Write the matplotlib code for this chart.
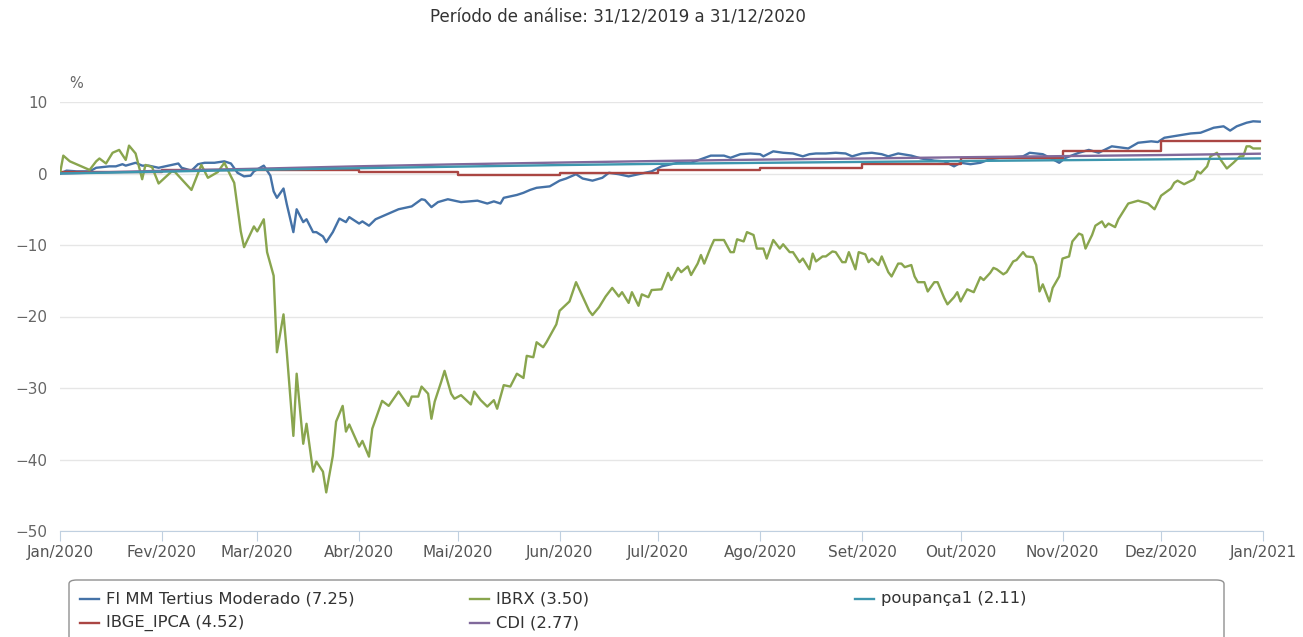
import numpy as np
import pandas as pd
import matplotlib
matplotlib.use("Agg")
import matplotlib.pyplot as plt
from matplotlib.lines import Line2D
from matplotlib.patches import FancyBboxPatch

plt.rcParams['font.family'] = ['DejaVu Sans']

inicio = pd.Timestamp("2020-01-01")

# dias contados a partir de 01/01/2020, valores em %
fundo_dias = [0, 2, 5, 9, 11, 15, 17, 19, 20, 23, 25, 27, 30, 32, 36, 37, 40, 42, 44, 47,
              50, 52, 54, 56, 58, 59, 62, 64, 65, 66, 68, 69, 71, 72, 74, 75, 77, 78, 80, 81,
              83, 85, 87, 88, 91, 92, 94, 96, 98, 100, 103, 107, 110, 111, 113, 115, 118, 122,
              127, 130, 132, 134, 135, 139, 141, 143, 145, 149, 152, 154, 157, 159, 162, 165,
              167, 170, 173, 176, 180, 183, 188, 192, 195, 198, 202, 204, 207, 210, 213, 214,
              217, 220, 223, 226, 228, 230, 233, 236, 239, 241, 244, 247, 250, 252, 255, 259,
              262, 266, 269, 272, 274, 277, 280, 283, 286, 288, 293, 295, 299, 302, 304, 306,
              310, 313, 316, 320, 325, 328, 332, 334, 336, 340, 344, 347, 351, 354, 356, 358,
              361, 363, 365]
fundo_vals = [0.0, 0.4, 0.3, 0.3, 0.8, 1.0, 1.0, 1.3, 1.1, 1.5, 1.1, 1.1, 0.8, 1.0, 1.4, 0.8,
              0.4, 1.3, 1.5, 1.5, 1.7, 1.4, 0.1, -0.4, -0.3, 0.3, 1.1, -0.3, -2.5, -3.4, -2.1,
              -4.3, -8.2, -5.0, -6.8, -6.4, -8.2, -8.2, -8.8, -9.6, -8.2, -6.3, -6.8, -6.1,
              -7.0, -6.7, -7.3, -6.4, -6.0, -5.6, -5.0, -4.6, -3.6, -3.7, -4.7, -4.0, -3.6,
              -4.0, -3.8, -4.2, -3.9, -4.2, -3.4, -3.0, -2.7, -2.3, -2.0, -1.8, -1.0, -0.7,
              -0.1, -0.7, -1.0, -0.6, 0.1, -0.1, -0.4, -0.1, 0.3, 1.0, 1.5, 1.5, 2.0, 2.5, 2.5,
              2.2, 2.7, 2.8, 2.7, 2.4, 3.1, 2.9, 2.8, 2.4, 2.7, 2.8, 2.8, 2.9, 2.8, 2.4, 2.8,
              2.9, 2.7, 2.4, 2.8, 2.5, 2.1, 1.8, 1.7, 1.0, 1.5, 1.3, 1.5, 2.0, 2.2, 2.2, 2.4,
              2.9, 2.7, 2.0, 1.5, 2.2, 2.9, 3.3, 2.9, 3.8, 3.5, 4.3, 4.5, 4.4, 5.0, 5.3, 5.6,
              5.7, 6.4, 6.6, 6.0, 6.6, 7.1, 7.3, 7.25]

ibrx_dias = [0, 1, 3, 6, 9, 11, 12, 14, 16, 18, 20, 21, 23, 25, 26, 28, 30, 34, 35, 40,
             43, 45, 48, 50, 52, 53, 55, 56, 59, 60, 62, 63, 65, 66, 68, 69, 71, 72, 74, 75,
             77, 78, 80, 81, 83, 84, 86, 87, 88, 91, 92, 94, 95, 98, 100, 103, 106, 107, 109,
             110, 112, 113, 114, 116, 117, 119, 120, 122, 125, 126, 128, 130, 132, 133, 135,
             137, 139, 141, 142, 144, 145, 147, 148, 151, 152, 155, 157, 158, 161, 162, 164,
             166, 168, 170, 171, 173, 174, 176, 177, 179, 180, 183, 185, 186, 188, 189, 191,
             192, 194, 195, 196, 198, 199, 202, 204, 205, 206, 208, 209, 211, 212, 214, 215,
             216, 217, 219, 220, 222, 223, 225, 226, 228, 229, 230, 232, 233, 235, 236, 238,
             239, 240, 242, 243, 245, 246, 247, 249, 250, 252, 253, 255, 256, 257, 259, 260,
             261, 263, 264, 266, 267, 269, 270, 272, 273, 274, 276, 278, 280, 281, 283, 284,
             285, 287, 288, 290, 291, 293, 294, 296, 297, 298, 299, 301, 302, 304, 305, 307,
             308, 310, 311, 312, 314, 315, 317, 318, 319, 321, 322, 325, 328, 331, 333, 335,
             338, 339, 340, 342, 345, 346, 347, 349, 350, 352, 353, 355, 357, 359, 360, 361,
             362, 363, 365]
ibrx_vals = [0.0, 2.5, 1.7, 1.1, 0.5, 1.7, 2.1, 1.4, 2.9, 3.3, 1.9, 3.9, 2.8, -0.8, 1.2, 0.9,
             -1.4, 0.3, 0.2, -2.3, 1.2, -0.6, 0.2, 1.5, -0.4, -1.3, -8.1, -10.3, -7.4, -8.1,
             -6.4, -11.0, -14.3, -25.0, -19.7, -25.0, -36.7, -28.0, -37.8, -35.0, -41.7,
             -40.3, -41.7, -44.6, -39.5, -34.7, -32.5, -36.1, -35.1, -38.2, -37.4, -39.6,
             -35.7, -31.8, -32.5, -30.5, -32.5, -31.2, -31.2, -29.8, -30.8, -34.3, -31.9,
             -29.1, -27.6, -30.8, -31.5, -31.0, -32.3, -30.5, -31.7, -32.6, -31.7, -32.9,
             -29.6, -29.8, -28.0, -28.6, -25.5, -25.7, -23.6, -24.3, -23.6, -21.1, -19.2,
             -17.9, -15.2, -16.2, -19.2, -19.8, -18.7, -17.2, -16.0, -17.2, -16.6, -18.1,
             -16.6, -18.5, -16.9, -17.3, -16.3, -16.2, -13.9, -14.9, -13.2, -13.8, -13.0,
             -14.2, -12.6, -11.4, -12.6, -10.3, -9.3, -9.3, -11.0, -11.0, -9.2, -9.5, -8.2,
             -8.6, -10.5, -10.5, -11.9, -10.6, -9.3, -10.5, -9.9, -11.0, -11.0, -12.4, -11.9,
             -13.4, -11.2, -12.3, -11.6, -11.6, -10.9, -11.0, -12.4, -12.4, -11.0, -13.4,
             -11.0, -11.3, -12.4, -11.9, -12.8, -11.6, -13.8, -14.4, -12.6, -12.6, -13.1,
             -12.8, -14.4, -15.2, -15.2, -16.5, -15.2, -15.2, -17.4, -18.3, -17.3, -16.6,
             -17.9, -16.2, -16.6, -14.5, -14.9, -13.9, -13.2, -13.4, -14.1, -13.8, -12.3,
             -12.1, -11.0, -11.6, -11.7, -12.8, -16.5, -15.5, -17.9, -16.0, -14.4, -11.9,
             -11.6, -9.5, -8.4, -8.6, -10.5, -8.6, -7.3, -6.7, -7.5, -7.0, -7.5, -6.4, -4.2,
             -3.8, -4.2, -5.0, -3.1, -2.1, -1.3, -1.0, -1.5, -0.8, 0.3, 0.0, 1.0, 2.4, 2.9,
             2.0, 0.7, 1.5, 2.4, 2.4, 3.8, 3.8, 3.5, 3.5]

# inicio de cada mes (dias desde 01/01/2020) e ultimo dia
mes_dias = [0, 31, 60, 91, 121, 152, 182, 213, 244, 274, 305, 335, 365]
ipca_vals = [0.21, 0.46, 0.53, 0.22, -0.16, 0.10, 0.46, 0.70, 1.34, 2.22, 3.13, 4.52, 4.52]
cdi_vals = [0.0, 0.38, 0.67, 1.01, 1.29, 1.53, 1.75, 1.94, 2.10, 2.27, 2.43, 2.58, 2.77]
poup_vals = [0.0, 0.26, 0.52, 0.74, 0.96, 1.18, 1.35, 1.49, 1.62, 1.74, 1.86, 1.98, 2.11]

meses = ["Jan/2020", "Fev/2020", "Mar/2020", "Abr/2020", "Mai/2020", "Jun/2020", "Jul/2020",
         "Ago/2020", "Set/2020", "Out/2020", "Nov/2020", "Dez/2020", "Jan/2021"]

series = [
    ("FI MM Tertius Moderado (7.25)", fundo_dias, fundo_vals, "#4572A7", "default"),
    ("IBGE_IPCA (4.52)", mes_dias, ipca_vals, "#AA4643", "steps-post"),
    ("IBRX (3.50)", ibrx_dias, ibrx_vals, "#89A54E", "default"),
    ("CDI (2.77)", mes_dias, cdi_vals, "#80699B", "default"),
    ("poupança1 (2.11)", mes_dias, poup_vals, "#3D96AE", "default"),
]


def datas(d):
    return inicio + pd.to_timedelta(np.array(d), unit="D")


W, H = 1303, 637
fig = plt.figure(figsize=(W / 100, H / 100), dpi=100)
ax = fig.add_axes([60 / W, 1 - 531 / H, 1203 / W, 429 / H])

for nome, d, v, cor, estilo in series:
    ax.plot(datas(d), v, color=cor, lw=1.7, drawstyle=estilo, solid_joinstyle="round")

ax.set_ylim(-50, 10)
ax.set_yticks(range(-50, 11, 10))
ax.set_xlim(inicio, inicio + pd.Timedelta(days=366))
ticks = pd.date_range("2020-01-01", "2021-01-01", freq="MS")
ax.set_xticks(ticks)
ax.set_xticklabels(meses)

ax.grid(axis="y", color="#e6e6e6", lw=1)
ax.set_axisbelow(True)
for s in ["top", "right", "left"]:
    ax.spines[s].set_visible(False)
ax.spines["bottom"].set_color("#C0D0E0")
ax.tick_params(axis="x", length=7, color="#C0D0E0", labelsize=11, labelcolor="#555555", pad=3)
ax.tick_params(axis="y", length=0, labelsize=11, labelcolor="#666666", pad=9)

fig.text(618 / W, 1 - 18 / H, "Período de análise: 31/12/2019 a 31/12/2020",
         ha="center", va="center", fontsize=12, color="#333333")
fig.text(76 / W, 1 - 83 / H, "%", ha="center", va="center", fontsize=10.5, color="#666666")

# caixa da legenda
caixa = FancyBboxPatch((69 / W, 1 - 660 / H), 1155 / W, 80 / H,
                       boxstyle="round,pad=0,rounding_size=0.006",
                       transform=fig.transFigure, fc="white", ec="#909090", lw=1,
                       clip_on=False)
fig.add_artist(caixa)

posicoes = [(80, 599), (80, 623), (470, 599), (470, 623), (855, 599)]
for (nome, d, v, cor, estilo), (px, py) in zip(series, posicoes):
    fig.add_artist(Line2D([px / W, (px + 19) / W], [1 - py / H, 1 - py / H],
                          transform=fig.transFigure, color=cor, lw=1.7))
    fig.text((px + 26) / W, 1 - py / H, nome, ha="left", va="center",
             fontsize=11.8, color="#333333")

fig.savefig("out.png", dpi=100)
